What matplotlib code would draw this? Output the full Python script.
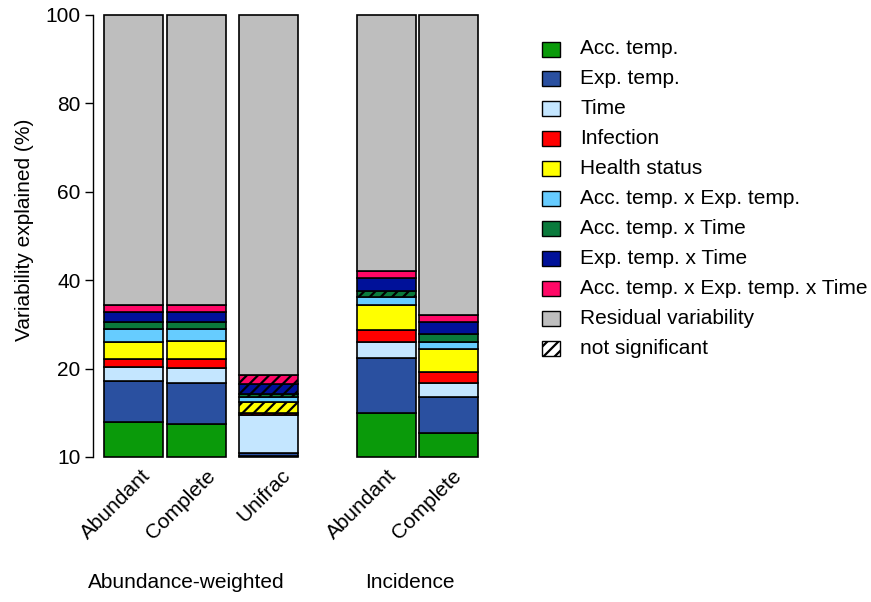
import matplotlib
matplotlib.use("Agg")
import matplotlib.pyplot as plt
from matplotlib.patches import Rectangle
from matplotlib.transforms import offset_copy
import numpy as np

plt.rcParams['font.family'] = ['Liberation Sans', 'DejaVu Sans']
plt.rcParams['hatch.linewidth'] = 1.6
plt.rcParams['hatch.color'] = 'black'

# Variance partitioning components (stack order, bottom to top)
components = ["Acc. temp.", "Exp. temp.", "Time", "Infection", "Health status",
              "Acc. temp. x Exp. temp.", "Acc. temp. x Time", "Exp. temp. x Time",
              "Acc. temp. x Exp. temp. x Time", "Residual variability"]
colors = ["#0a9a0a", "#2a50a0", "#c4e6ff", "#ff0000", "#ffff00",
          "#66ccff", "#0a7a3c", "#001199", "#ff0866", "#bebebe"]

bar_labels = ["Abundant", "Complete", "Unifrac", "Abundant", "Complete"]
group_labels = ["Abundance-weighted", "Incidence"]
group_members = [[0, 1, 2], [3, 4]]

# Percent of variability explained, one value per bar
acc_temp     = [8.0, 7.5, 0.3, 10.0, 5.5]
exp_temp     = [9.2, 9.2, 0.7, 12.3, 8.1]
time_effect  = [3.2, 3.4, 8.4, 3.7, 3.1]
infection    = [1.8, 2.0, 0.6, 2.7, 2.5]
health       = [3.8, 4.1, 2.4, 5.8, 5.2]
acc_x_exp    = [2.9, 2.7, 1.2, 1.8, 1.6]
acc_x_time   = [1.6, 1.6, 0.7, 1.3, 1.8]
exp_x_time   = [2.3, 2.2, 2.3, 2.8, 2.7]
acc_exp_time = [1.7, 1.7, 1.9, 1.7, 1.6]
residual     = [65.5, 65.6, 81.5, 57.9, 67.9]

# Non-significant terms (True = hatched)
ns_acc_temp     = [False, False, False, False, False]
ns_exp_temp     = [False, False, False, False, False]
ns_time         = [False, False, False, False, False]
ns_infection    = [False, False, True, False, False]
ns_health       = [False, False, True, False, False]
ns_acc_x_exp    = [False, False, False, False, False]
ns_acc_x_time   = [False, False, True, True, False]
ns_exp_x_time   = [False, False, True, False, False]
ns_acc_exp_time = [False, False, True, False, False]
ns_residual     = [False, False, False, False, False]

ytick_pos = [0, 20, 40, 60, 80, 100]
ytick_labels = ["10", "20", "40", "60", "80", "100"]

series = [acc_temp, exp_temp, time_effect, infection, health,
          acc_x_exp, acc_x_time, exp_x_time, acc_exp_time, residual]
not_sig = [ns_acc_temp, ns_exp_temp, ns_time, ns_infection, ns_health,
           ns_acc_x_exp, ns_acc_x_time, ns_exp_x_time, ns_acc_exp_time, ns_residual]

FS = 15
W, H = 871, 602
fig = plt.figure(figsize=(W / 100, H / 100), dpi=100)
ax = fig.add_axes([93 / W, 145 / H, 397 / W, 442 / H])

# bar positions: unequal gaps between bars (unit bar width)
gaps = [0.07, 0.22, 1.0, 0.05]
x = np.concatenate([[0.0], np.cumsum(np.array(gaps) + 1.0)])

bottom = np.zeros(len(x))
for vals, col, ns in zip(series, colors, not_sig):
    vals = np.array(vals)
    for i in range(len(x)):
        ax.bar(x[i], vals[i], width=1.0, bottom=bottom[i], color=col,
               edgecolor='black', linewidth=1.2,
               hatch='///' if ns[i] else None, clip_on=False)
    bottom += vals

ax.set_ylim(0, 100)
ax.set_xlim(-0.686, 6.04)
for s in ['top', 'right', 'bottom']:
    ax.spines[s].set_visible(False)
ax.spines['left'].set_bounds(0, 100)
ax.spines['left'].set_linewidth(1.0)
ax.set_yticks(ytick_pos)
ax.set_yticklabels(ytick_labels, fontsize=FS)
ax.tick_params(axis='y', length=6, width=1.0, pad=3)
ax.set_xticks([])

# rotated bar names (small per-label horizontal nudges, in pixels)
label_nudge = [7, 9, 12, 0, 3]
for xi, lab, dx in zip(x, bar_labels, label_nudge):
    tr = offset_copy(ax.transData, fig=fig, x=dx, y=-9, units='dots')
    ax.text(xi, 0, lab, transform=tr, rotation=45, ha='right', va='top',
            rotation_mode='anchor', fontsize=FS)

# group names
group_nudge = [-13, -8]
for lab, members, dx in zip(group_labels, group_members, group_nudge):
    cx = np.mean([x[m] for m in members])
    px = ax.transData.transform((cx, 0))[0] + dx
    fig.text(px / W, 1 - 583 / H, lab, ha='center', va='center', fontsize=FS)

fig.text(24 / W, 1 - 230 / H, "Variability explained (%)", rotation=90,
         ha='center', va='center', fontsize=FS)

# legend drawn in figure pixel space
legend_items = list(zip(components, colors, [None] * len(components)))
legend_items.append(("not significant", "white", '///'))
y0, dy = 49, 29.9
for k, (lab, col, hatch) in enumerate(legend_items):
    yc = y0 + k * dy
    rect = Rectangle((542 / W, 1 - (yc + 7.5) / H), 18 / W, 15 / H,
                     transform=fig.transFigure, facecolor=col,
                     edgecolor='black', linewidth=1.0, hatch=hatch)
    fig.patches.append(rect)
    fig.text(580 / W, 1 - yc / H, lab, ha='left', va='center', fontsize=FS)

fig.savefig("out.png", dpi=100)
